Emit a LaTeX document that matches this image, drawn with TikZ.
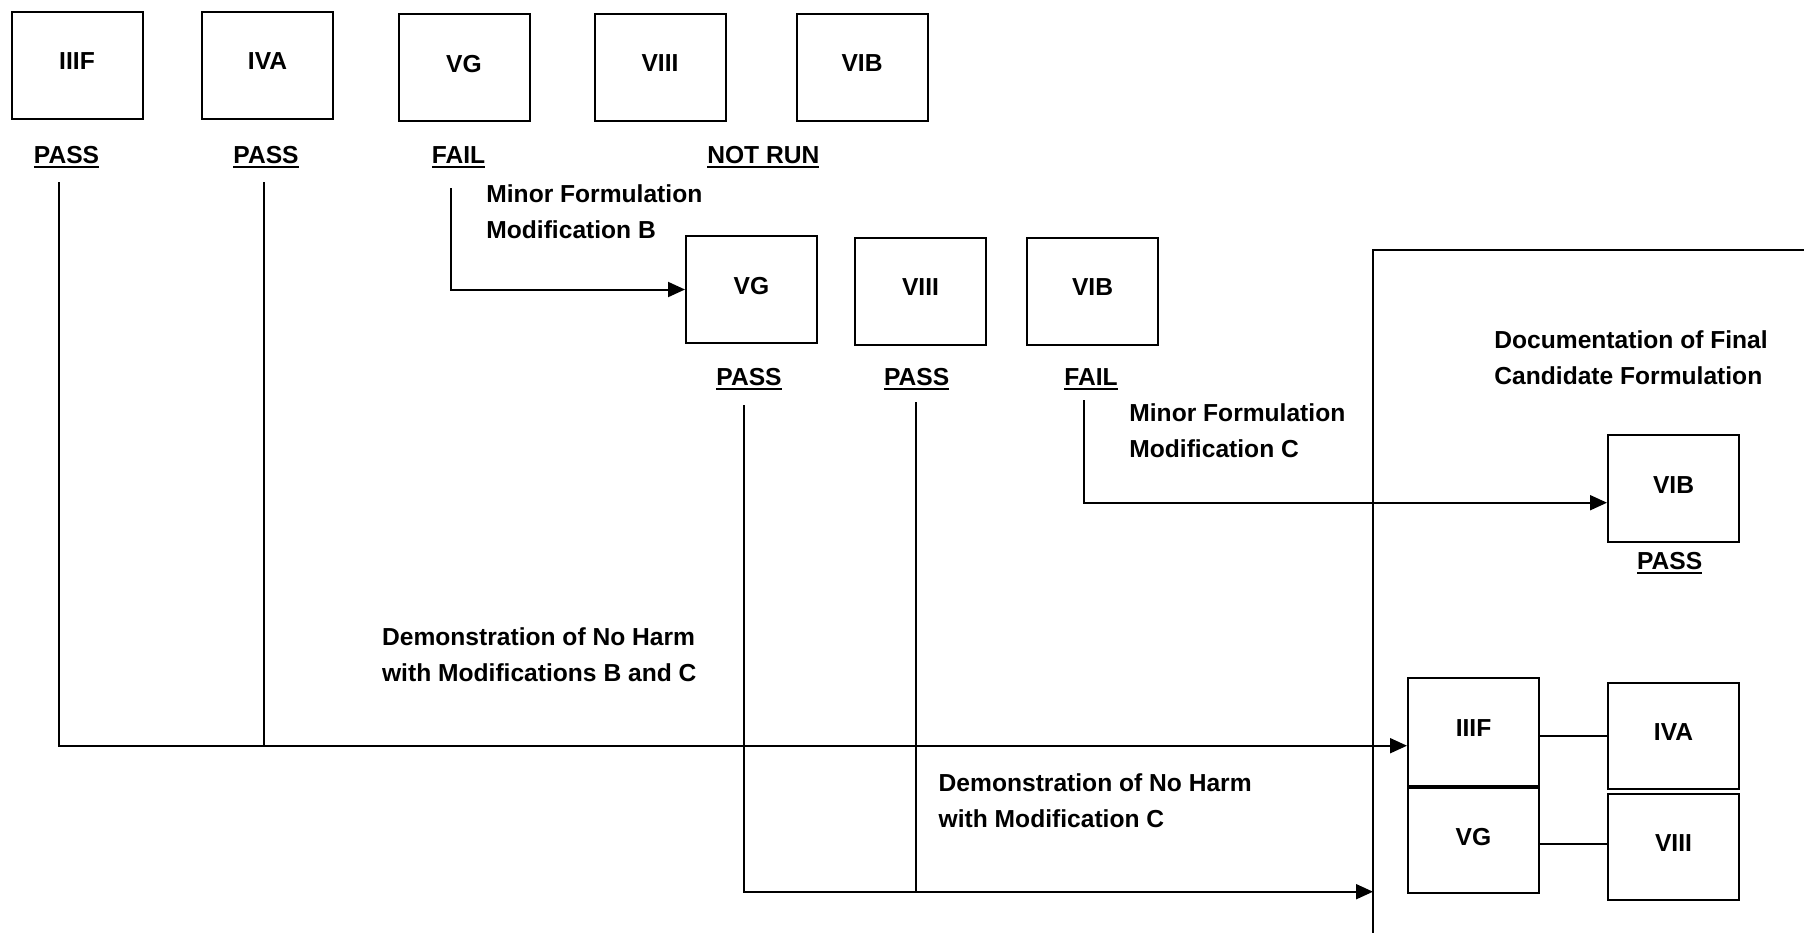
\documentclass[tikz,border=0pt]{standalone}
\usepackage{fontspec}
\setmainfont{Liberation Sans}
\usetikzlibrary{arrows.meta}
\newcommand\ulab[1]{\setbox0\hbox{#1}\rlap{\rule[-2pt]{\wd0}{1pt}}\box0}
\begin{document}
\begin{tikzpicture}[x=0.5pt,y=-0.5pt,
  font=\fontsize{12.3}{18.1}\selectfont\bfseries,
  box/.style={draw, line width=1pt, minimum width=65.5pt, minimum height=53.5pt, inner sep=0pt, text depth=4pt},
  lab/.style={anchor=base, inner sep=0pt},
  txt/.style={anchor=north west, align=left, inner sep=0pt},
  conn/.style={line width=1pt},
  arr/.style={line width=1pt, -{Triangle[length=8.5pt,width=7.5pt]}}]
\fill[white] (0,0) rectangle (1804,933);
\useasboundingbox (0,0) rectangle (1804,933);

% top row
\node[box] (tIIIF) at (77,65.5) {IIIF};
\node[box] (tIVA) at (267.5,65.5) {IVA};
\node[box] (tVG) at (464,67.5) {VG};
\node[box] (tVIII) at (660,67.5) {VIII};
\node[box] (tVIB) at (862,67.5) {VIB};
\node[lab] (lIIIF) at (66.5,163.8) {\ulab{PASS}};
\node[lab] (lIVA) at (266,163.8) {\ulab{PASS}};
\node[lab] (lVG) at (458.5,163.8) {\ulab{FAIL}};
\node[lab] (lNR) at (763.3,163.8) {\ulab{NOT RUN}};

% middle row
\node[box] (mVG) at (751.5,289.5) {VG};
\node[box] (mVIII) at (920.5,291.5) {VIII};
\node[box] (mVIB) at (1092.5,291.5) {VIB};
\node[lab] (lmVG) at (749,385.8) {\ulab{PASS}};
\node[lab] (lmVIII) at (916.6,385.8) {\ulab{PASS}};
\node[lab] (lmVIB) at (1091,385.8) {\ulab{FAIL}};

% final frame
\draw[conn] (1804,250) -- (1373,250) -- (1373,933);
\node[box] (fVIB) at (1673.5,488.7) {VIB};
\node[lab] (lfVIB) at (1669.7,569.8) {\ulab{PASS}};
\node[box, minimum height=54pt] (fIIIF) at (1473.5,732) {IIIF};
\node[box, minimum height=52.5pt] (fVG) at (1473.5,840.7) {VG};
\node[box, minimum height=53pt] (fIVA) at (1673.5,736.3) {IVA};
\node[box, minimum height=53pt] (fVIII) at (1673.5,847.3) {VIII};

% texts
\node[txt] (minB) at (486,183.9) {Minor Formulation\\Modification B};
\node[txt] (minC) at (1129,403.2) {Minor Formulation\\Modification C};
\node[txt] (doc) at (1494,330.2) {Documentation of Final\\Candidate Formulation};
\node[txt] (demo1) at (381.7,627) {Demonstration of No Harm\\with Modifications B and C};
\node[txt] (demo2) at (938.3,773.5) {Demonstration of No Harm\\with Modification C};

% connectors
\coordinate (s1) at (58.8,182);
\coordinate (s2) at (263.5,182);
\coordinate (s3) at (451,188);
\coordinate (s4) at (744,405);
\coordinate (s5) at (916.3,402);
\coordinate (s6) at (1084,400);
\coordinate (e1) at ([yshift=-6.85pt]fIIIF.west);
\coordinate (e4) at (1373,891.7);
\coordinate (e6) at ([yshift=-7pt]fVIB.west);
\coordinate (e8) at ([yshift=1.6pt]fVIII.west);
\draw[arr] (s1) |- (e1);
\draw[conn] (s2) -- (s2 |- e1);
\draw[arr] (s3) |- (mVG.west);
\draw[arr] (s4) |- (e4);
\draw[conn] (s5) -- (s5 |- e4);
\draw[arr] (s6) |- (e6);
\draw[conn] (fIIIF.east |- fIVA.west) -- (fIVA.west);
\draw[conn] (fVG.east |- e8) -- (e8);
\end{tikzpicture}
\end{document}
